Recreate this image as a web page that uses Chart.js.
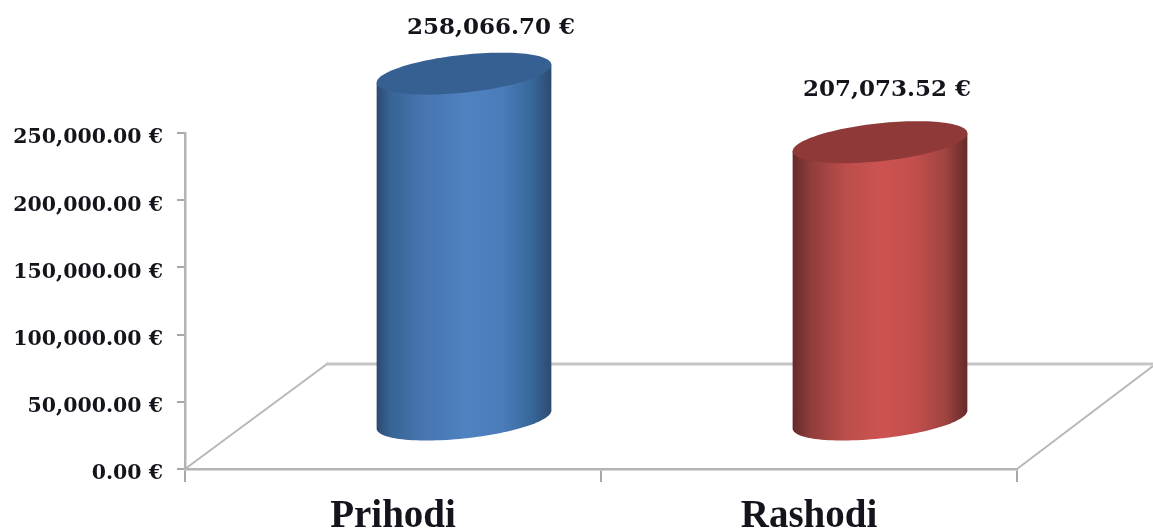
<!DOCTYPE html>
<html>
<head>
<meta charset="utf-8">
<style>
  html, body { margin: 0; padding: 0; background: #fff; overflow: hidden; }
  canvas { display: block; }
</style>
<script src="https://cdn.jsdelivr.net/npm/chart.js@4/dist/chart.umd.min.js"></script>
</head>
<body>
<canvas id="myChart" width="1153" height="530"></canvas>
<script>
const categories = ["Prihodi", "Rashodi"];
const values = [258066.7, 207073.52];
const yMax = 250000;
const yStep = 50000;

// look of each cylinder
const bodyStops = [
  [[0, "#2d4a70"], [0.08, "#376494"], [0.25, "#4674ae"], [0.5, "#4f82c0"], [0.72, "#4a7cba"], [0.88, "#38699b"], [1, "#2d4a70"]],
  [[0, "#652a29"], [0.1, "#8e3d3b"], [0.3, "#bb4d4a"], [0.5, "#cd5351"], [0.7, "#c24f4c"], [0.87, "#a14441"], [1, "#642a29"]],
];
const topColors = ["#376092", "#8f3a38"];
const labelNudge = [[27, -46], [7, -52]];

// floor depth in pixels
const depthX = 142;
const depthY = 105;
const floorRight = 1153;
const ellipseTilt = 9;
const ellipseRy = 19;

function money(v) {
  return v.toLocaleString("en-US", { minimumFractionDigits: 2, maximumFractionDigits: 2 }) + " €";
}

const floorPlugin = {
  id: "floor",
  beforeDatasetsDraw(chart) {
    const { ctx, chartArea: a } = chart;
    ctx.save();
    ctx.strokeStyle = "#c6c6c6";
    ctx.lineWidth = 3;
    ctx.beginPath();
    ctx.moveTo(a.left + depthX - 1, a.bottom - depthY);
    ctx.lineTo(floorRight, a.bottom - depthY);
    ctx.stroke();
    ctx.lineWidth = 2;
    ctx.strokeStyle = "#b8b8b8";
    ctx.beginPath();
    ctx.moveTo(a.left, a.bottom);
    ctx.lineTo(a.left + depthX, a.bottom - depthY);
    ctx.moveTo(a.right, a.bottom);
    ctx.lineTo(floorRight, a.bottom - depthY + 2);
    ctx.stroke();
    ctx.restore();
  },
};

const cylinderPlugin = {
  id: "cylinders",
  afterDatasetsDraw(chart) {
    const ctx = chart.ctx;
    chart.getDatasetMeta(0).data.forEach(function (bar, i) {
      const cx = bar.x + depthX / 2;
      const rx = bar.width / 2;
      const topY = bar.y - depthY / 2 + 4;
      const baseY = bar.base - depthY / 2 + 4;

      const grad = ctx.createLinearGradient(cx - rx, 0, cx + rx, 0);
      bodyStops[i].forEach(function (s) {
        grad.addColorStop(s[0], s[1]);
      });

      ctx.save();
      // side of the cylinder: down the left, round the base ellipse, back up
      ctx.fillStyle = grad;
      ctx.beginPath();
      ctx.moveTo(cx - rx, topY + ellipseTilt);
      for (let t = Math.PI; t >= 0; t -= Math.PI / 60) {
        ctx.lineTo(cx + rx * Math.cos(t), baseY - ellipseTilt * Math.cos(t) + ellipseRy * Math.sin(t));
      }
      ctx.lineTo(cx + rx, topY - ellipseTilt);
      ctx.closePath();
      ctx.fill();

      // top face
      ctx.fillStyle = topColors[i];
      ctx.beginPath();
      for (let t = 0; t < Math.PI * 2; t += Math.PI / 60) {
        ctx.lineTo(cx + rx * Math.cos(t), topY - ellipseTilt * Math.cos(t) + ellipseRy * Math.sin(t));
      }
      ctx.closePath();
      ctx.fill();

      ctx.fillStyle = "#14141c";
      ctx.font = "bold 23px 'DejaVu Serif'";
      ctx.textAlign = "center";
      ctx.textBaseline = "middle";
      ctx.fillText(money(values[i]), cx + labelNudge[i][0], topY + labelNudge[i][1]);
      ctx.restore();
    });
  },
};

new Chart("myChart", {
  type: "bar",
  data: {
    labels: categories,
    datasets: [
      {
        data: values,
        backgroundColor: "rgba(0,0,0,0)",
        borderWidth: 0,
        barPercentage: 0.42,
        categoryPercentage: 1,
        clip: false,
      },
    ],
  },
  options: {
    responsive: false,
    animation: false,
    events: [],
    layout: { padding: { top: 133, right: 136, left: 0, bottom: 0 } },
    plugins: { legend: { display: false }, title: { display: false }, tooltip: { enabled: false } },
    scales: {
      x: {
        afterFit(scale) {
          scale.height = 61;
        },
        border: { color: "#b4b4b4", width: 2.5 },
        grid: { drawOnChartArea: false, color: "#a8a8a8", lineWidth: 2, tickLength: 13 },
        ticks: {
          padding: 12,
          maxRotation: 0,
          autoSkip: false,
          color: "#14141c",
          font: { family: "'Liberation Serif'", weight: "bold", size: 39 },
        },
      },
      y: {
        min: 0,
        max: yMax,
        afterFit(scale) {
          scale.width = 185;
        },
        border: { color: "#b4b4b4", width: 2.5 },
        grid: { drawOnChartArea: false, color: "#a8a8a8", lineWidth: 2, tickLength: 8 },
        ticks: {
          stepSize: yStep,
          padding: 14,
          color: "#14141c",
          font: { family: "'DejaVu Serif'", weight: "bold", size: 20.5, lineHeight: 0.5 },
          // empty first line pushes the label a few pixels below its tick
          callback: function (v) {
            return ["", money(v)];
          },
        },
      },
    },
  },
  plugins: [floorPlugin, cylinderPlugin],
});
</script>
</body>
</html>
